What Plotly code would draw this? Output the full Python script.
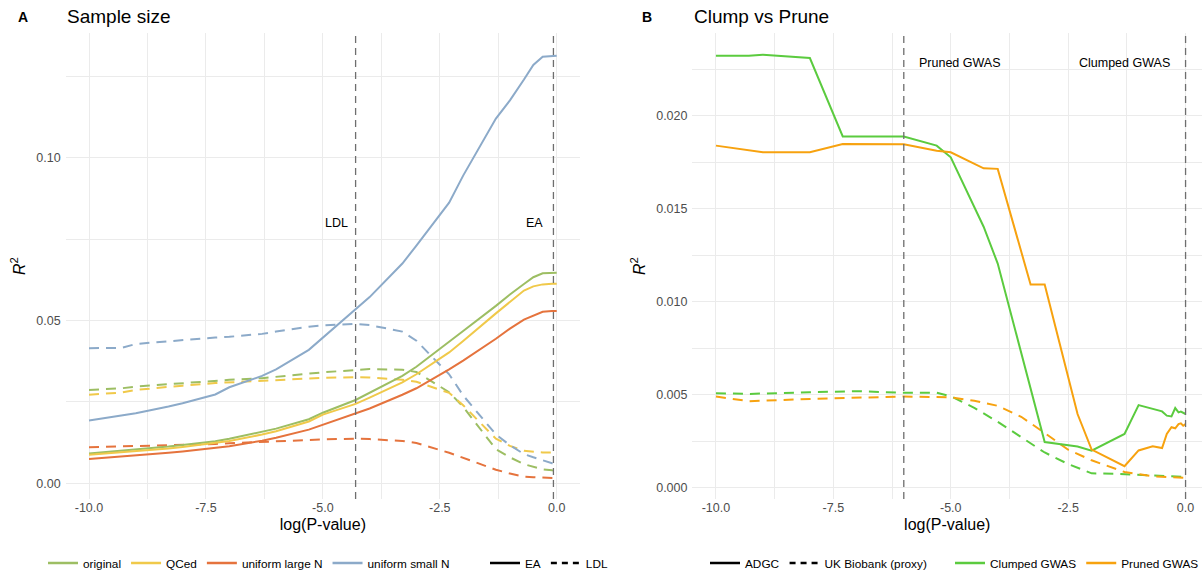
import plotly.graph_objects as go

# ---------------- Panel A data: Sample size ----------------
X_A = [-10, -9.3, -9, -8.3, -8, -7.3, -7, -6.3, -6, -5.3, -5, -4.3, -4, -3.3, -3,
       -2.3, -2, -1.3, -1, -0.7, -0.5, -0.3, -0.1, 0]

original_EA = [0.0092, 0.0100, 0.0104, 0.0113, 0.0118, 0.0129, 0.0137, 0.0158, 0.0168, 0.0197,
               0.0217, 0.0256, 0.0278, 0.0330, 0.0358, 0.0433, 0.0468, 0.0545, 0.0580, 0.0612,
               0.0633, 0.0645, 0.0646, 0.0647]
qced_EA = [0.0088, 0.0095, 0.0099, 0.0107, 0.0112, 0.0123, 0.0130, 0.0150, 0.0160, 0.0190,
           0.0211, 0.0244, 0.0263, 0.0310, 0.0335, 0.0402, 0.0437, 0.0522, 0.0558, 0.0592,
           0.0605, 0.0611, 0.0613, 0.0613]
largeN_EA = [0.0075, 0.0082, 0.0086, 0.0094, 0.0098, 0.0108, 0.0114, 0.0131, 0.0140, 0.0165,
             0.0180, 0.0213, 0.0230, 0.0272, 0.0292, 0.0350, 0.0377, 0.0444, 0.0475, 0.0503,
             0.0516, 0.0527, 0.0529, 0.0529]
smallN_EA = [0.0193, 0.0208, 0.0215, 0.0236, 0.0246, 0.0273, 0.0295, 0.0330, 0.0350, 0.0410,
             0.0447, 0.0533, 0.0572, 0.0675, 0.0730, 0.0862, 0.0945, 0.1120, 0.1176, 0.1240,
             0.1285, 0.1310, 0.1313, 0.1313]

original_LDL = [0.0287, 0.0292, 0.0297, 0.0305, 0.0308, 0.0316, 0.0318, 0.0323, 0.0327, 0.0337,
                0.0341, 0.0348, 0.0351, 0.0349, 0.0342, 0.0280, 0.0235, 0.0105, 0.0080, 0.0059,
                0.0050, 0.0043, 0.0040, 0.0039]
qced_LDL = [0.0272, 0.0279, 0.0287, 0.0297, 0.0300, 0.0308, 0.0310, 0.0315, 0.0318, 0.0322,
            0.0324, 0.0326, 0.0325, 0.0318, 0.0312, 0.0278, 0.0240, 0.0137, 0.0115, 0.0100,
            0.0097, 0.0095, 0.0095, 0.0095]
largeN_LDL = [0.0111, 0.0113, 0.0114, 0.0117, 0.0118, 0.0121, 0.0123, 0.0128, 0.0130, 0.0133,
              0.0135, 0.0137, 0.0136, 0.0130, 0.0124, 0.0094, 0.0078, 0.0042, 0.0030, 0.0021,
              0.0019, 0.0017, 0.0016, 0.0016]
smallN_LDL = [0.0415, 0.0416, 0.0428, 0.0437, 0.0441, 0.0448, 0.0450, 0.0459, 0.0466, 0.0481,
              0.0485, 0.0490, 0.0486, 0.0466, 0.0438, 0.0335, 0.0270, 0.0150, 0.0117, 0.0090,
              0.0080, 0.0070, 0.0062, 0.0060]

GROUPS_A = ["original", "QCed", "uniform large N", "uniform small N"]
COLORS_A = ["#9DBE63", "#F0C94A", "#E5733D", "#8CAAC9"]
TRAITS_A = ["EA", "LDL"]
VLINES_A = [-4.3, -0.07]
VLABELS_A = ["LDL", "EA"]
VLABEL_Y_A = 0.080

# ---------------- Panel B data: Clump vs Prune ----------------
X_clumped_ADGC = [-10, -9.3, -9, -8, -7.3, -6, -5.3, -5, -4.3, -4, -3, -2.3, -2, -1.3, -1,
                  -0.5, -0.4, -0.3, -0.22, -0.15, -0.1, 0]
clumped_ADGC = [0.02323, 0.02323, 0.02329, 0.02311, 0.01889, 0.01889, 0.01840, 0.01777,
                0.01404, 0.01206, 0.00246, 0.00222, 0.00200, 0.00290, 0.00445, 0.00411,
                0.00388, 0.00384, 0.00429, 0.00406, 0.00410, 0.00397]
X_pruned_ADGC = [-10, -9, -8, -7.3, -6, -5.3, -5, -4.3, -4, -3.3, -3, -2.3, -2, -1.3, -1,
                 -0.7, -0.5, -0.4, -0.3, -0.22, -0.15, -0.1, -0.05, 0]
pruned_ADGC = [0.01840, 0.01804, 0.01804, 0.01849, 0.01847, 0.01813, 0.01804, 0.01718,
               0.01715, 0.01093, 0.01093, 0.00397, 0.00206, 0.00116, 0.00201, 0.00224,
               0.00214, 0.00290, 0.00326, 0.00320, 0.00343, 0.00347, 0.00334, 0.00343]
X_clumped_UKB = [-10, -9.3, -8, -7, -6, -5.3, -5, -4.5, -4, -3.5, -3, -2.5, -2, -1.5, -1,
                 -0.5, 0]
clumped_UKB = [0.00509, 0.00505, 0.00514, 0.00520, 0.00511, 0.00511, 0.00493, 0.00430,
               0.00355, 0.00272, 0.00190, 0.00128, 0.00078, 0.00076, 0.00070, 0.00064,
               0.00059]
X_pruned_UKB = [-10, -9.3, -8, -7, -6, -5, -4.5, -4, -3.5, -3, -2.5, -2, -1.3, -0.7, 0]
pruned_UKB = [0.00491, 0.00466, 0.00478, 0.00484, 0.00491, 0.00487, 0.00468, 0.00441,
              0.00382, 0.00295, 0.00205, 0.00148, 0.00085, 0.00062, 0.00053]

GROUPS_B = ["Clumped GWAS", "Pruned GWAS"]
COLORS_B = ["#5BCB3F", "#F7A20F"]
COHORTS_B = ["ADGC", "UK Biobank (proxy)"]
VLINES_B = [-6.0, 0.0]
VLABELS_B = ["Pruned GWAS", "Clumped GWAS"]
VLABEL_X_B = [-4.8, -1.3]
VLABEL_Y_B = 0.02286

X_TICKS = [-10, -7.5, -5, -2.5, 0]
X_TICKTEXT = ["-10.0", "-7.5", "-5.0", "-2.5", "0.0"]
Y_TICKS_A = [0.0, 0.05, 0.10]
Y_TICKTEXT_A = ["0.00", "0.05", "0.10"]
Y_TICKS_B = [0.0, 0.005, 0.010, 0.015, 0.020]
Y_TICKTEXT_B = ["0.000", "0.005", "0.010", "0.015", "0.020"]

FONT = "Liberation Sans, Arial, Helvetica, sans-serif"
LW = 2.0
DASH = "10px,7px"

fig = go.Figure()

# Panel A traces
ea_series = [original_EA, qced_EA, largeN_EA, smallN_EA]
ldl_series = [original_LDL, qced_LDL, largeN_LDL, smallN_LDL]
for name, col, ys in zip(GROUPS_A, COLORS_A, ldl_series):
    fig.add_trace(go.Scatter(x=X_A, y=ys, mode="lines", name=name + " LDL", showlegend=False,
                             line=dict(color=col, width=LW, dash=DASH), xaxis="x", yaxis="y"))
for name, col, ys in zip(GROUPS_A, COLORS_A, ea_series):
    fig.add_trace(go.Scatter(x=X_A, y=ys, mode="lines", name=name + " EA", showlegend=False,
                             line=dict(color=col, width=LW), xaxis="x", yaxis="y"))

# Panel B traces
fig.add_trace(go.Scatter(x=X_clumped_UKB, y=clumped_UKB, mode="lines", showlegend=False,
                         line=dict(color=COLORS_B[0], width=LW, dash=DASH), xaxis="x2", yaxis="y2"))
fig.add_trace(go.Scatter(x=X_pruned_UKB, y=pruned_UKB, mode="lines", showlegend=False,
                         line=dict(color=COLORS_B[1], width=LW, dash=DASH), xaxis="x2", yaxis="y2"))
fig.add_trace(go.Scatter(x=X_clumped_ADGC, y=clumped_ADGC, mode="lines", showlegend=False,
                         line=dict(color=COLORS_B[0], width=LW), xaxis="x2", yaxis="y2"))
fig.add_trace(go.Scatter(x=X_pruned_ADGC, y=pruned_ADGC, mode="lines", showlegend=False,
                         line=dict(color=COLORS_B[1], width=LW), xaxis="x2", yaxis="y2"))

# Legend entries (dummy traces)
for name, col in zip(GROUPS_A, COLORS_A):
    fig.add_trace(go.Scatter(x=[None], y=[None], mode="lines", name=name, legend="legend",
                             line=dict(color=col, width=2.5), xaxis="x", yaxis="y"))
for name, dash in zip(TRAITS_A, ["solid", "6px,5px"]):
    fig.add_trace(go.Scatter(x=[None], y=[None], mode="lines", name=name, legend="legend2",
                             line=dict(color="black", width=2.5, dash=dash), xaxis="x", yaxis="y"))
for name, dash in zip(COHORTS_B, ["solid", "6px,5px"]):
    fig.add_trace(go.Scatter(x=[None], y=[None], mode="lines", name=name, legend="legend3",
                             line=dict(color="black", width=2.5, dash=dash), xaxis="x2", yaxis="y2"))
for name, col in zip(GROUPS_B, COLORS_B):
    fig.add_trace(go.Scatter(x=[None], y=[None], mode="lines", name=name, legend="legend4",
                             line=dict(color=col, width=2.5), xaxis="x2", yaxis="y2"))

shapes = []
for v in VLINES_A:
    shapes.append(dict(type="line", xref="x", yref="y domain", x0=v, x1=v, y0=0, y1=1,
                       line=dict(color="#6E6E6E", width=1.3, dash="7px,5px")))
for v in VLINES_B:
    shapes.append(dict(type="line", xref="x2", yref="y2 domain", x0=v, x1=v, y0=0, y1=1,
                       line=dict(color="#6E6E6E", width=1.3, dash="7px,5px")))

annotations = []
for v, t in zip(VLINES_A, VLABELS_A):
    annotations.append(dict(x=v - 0.4, y=VLABEL_Y_A, xref="x", yref="y", text=t, showarrow=False,
                            font=dict(size=12.5, color="black", family=FONT)))
for xv, t in zip(VLABEL_X_B, VLABELS_B):
    annotations.append(dict(x=xv, y=VLABEL_Y_B, xref="x2", yref="y2", text=t, showarrow=False,
                            font=dict(size=12.5, color="black", family=FONT)))
# panel tags and titles
annotations += [
    dict(x=22.5 / 1202, y=1 - 17 / 571, xref="paper", yref="paper", text="<b>A</b>", showarrow=False,
         xanchor="center", yanchor="middle", font=dict(size=14, color="black", family=FONT)),
    dict(x=65 / 1202, y=1 - 17 / 571, xref="paper", yref="paper", text="Sample size", showarrow=False,
         xanchor="left", yanchor="middle", font=dict(size=19, color="black", family=FONT)),
    dict(x=647 / 1202, y=1 - 17 / 571, xref="paper", yref="paper", text="<b>B</b>", showarrow=False,
         xanchor="center", yanchor="middle", font=dict(size=14, color="black", family=FONT)),
    dict(x=692 / 1202, y=1 - 17 / 571, xref="paper", yref="paper", text="Clump vs Prune", showarrow=False,
         xanchor="left", yanchor="middle", font=dict(size=19, color="black", family=FONT)),
]

grid = "#EBEBEB"
tickfont = dict(size=12.5, color="#4D4D4D", family=FONT)
titlefont = dict(size=16, color="black", family=FONT)

def xaxis(domain, rng, anchor):
    return dict(domain=domain, range=rng, anchor=anchor, tickvals=X_TICKS, ticktext=X_TICKTEXT,
                showgrid=True, gridcolor=grid, gridwidth=1, zeroline=False, showline=False, ticks="",
                tickfont=tickfont, automargin=False,
                title=dict(text="log(P-value)", font=titlefont, standoff=4),
                minor=dict(dtick=1.25, tick0=0, showgrid=True, gridcolor=grid, gridwidth=0.6),
                fixedrange=True)

def yaxis(domain, rng, anchor, tv, tt, minor_dtick):
    return dict(domain=domain, range=rng, anchor=anchor, tickvals=tv, ticktext=tt, showgrid=True,
                gridcolor=grid, gridwidth=1, zeroline=False, showline=False, ticks="",
                tickfont=tickfont, automargin=False, ticklabelstandoff=4,
                title=dict(text="<i>R</i><sup>2</sup>", font=titlefont, standoff=6),
                minor=dict(dtick=minor_dtick, tick0=0, showgrid=True, gridcolor=grid, gridwidth=0.6),
                fixedrange=True)

ydom = [0.1261, 0.9417]
legend_common = dict(orientation="h", yanchor="middle", y=8 / 571, xanchor="left",
                     xref="container", yref="container",
                     font=dict(size=11.8, color="black", family=FONT), bgcolor="rgba(0,0,0,0)",
                     itemwidth=30, tracegroupgap=0)

fig.update_layout(
    width=1202, height=571, margin=dict(l=0, r=0, t=0, b=0, autoexpand=False),
    paper_bgcolor="white", plot_bgcolor="white",
    font=dict(family=FONT),
    xaxis=xaxis([0.0546, 0.4826], [-10.5, 0.5], "y"),
    yaxis=yaxis(ydom, [-0.0048, 0.1382], "x", Y_TICKS_A, Y_TICKTEXT_A, 0.025),
    xaxis2=xaxis([0.5761, 1.0], [-10.5, 0.35], "y2"),
    yaxis2=yaxis(ydom, [-0.0006, 0.02444], "x2", Y_TICKS_B, Y_TICKTEXT_B, 0.0025),
    shapes=shapes, annotations=annotations,
    legend=dict(legend_common, x=43 / 1202),
    legend2=dict(legend_common, x=485 / 1202),
    legend3=dict(legend_common, x=705 / 1202),
    legend4=dict(legend_common, x=950 / 1202),
)

fig.write_html("out.html", config={"displayModeBar": False},
               post_script="document.body.style.margin='0';document.body.style.overflow='hidden';")
